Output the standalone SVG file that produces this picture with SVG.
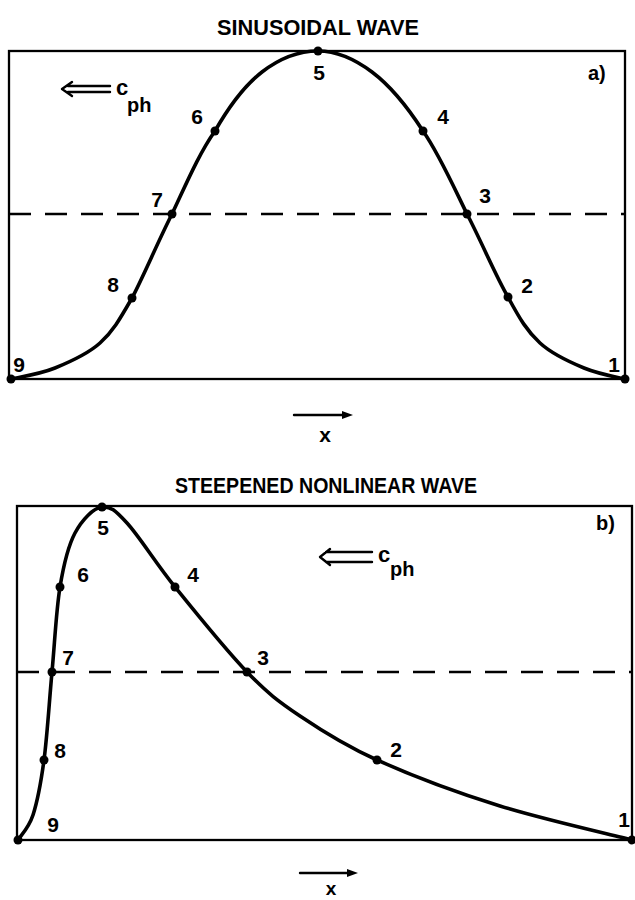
<svg xmlns="http://www.w3.org/2000/svg" width="635" height="900" viewBox="0 0 635 900">
<style>
.box{fill:none;stroke:#000;stroke-width:2.3}
.dash{fill:none;stroke:#000;stroke-width:2.6;stroke-dasharray:22 14}
.curve{fill:none;stroke:#000;stroke-width:3.6;stroke-linecap:round;stroke-linejoin:round}
.pt{fill:#000}
.ln{fill:none;stroke:#000;stroke-width:2.4;stroke-linecap:round;stroke-linejoin:round}
text{font-family:"Liberation Sans",Arial,sans-serif;font-weight:bold;fill:#000}
.title{font-size:22px}
.num{font-size:21px;text-anchor:middle}
.lab{font-size:20px}
.c{font-size:22px}
.sub{font-size:20px}
</style>
<rect width="635" height="900" fill="#fff"/>

<g id="panel-a">
<text class="title" x="318" y="35" text-anchor="middle" textLength="202" lengthAdjust="spacingAndGlyphs">SINUSOIDAL WAVE</text>
<rect class="box" x="9" y="51" width="616" height="328"/>
<line class="dash" x1="9" y1="214" x2="625" y2="214"/>
<path class="curve" d="M11,379 C19.2,377.2 40.3,374 55,368 C69.7,362 87.3,354.5 100,343 C112.7,331.5 119,320.7 132,298 C143,277.3 158.2,241.2 172,214 C185.8,184.8 199,153.5 215,131 C229,106.5 244.8,85.3 262,72 C279.2,58.7 298.7,51 318,51 C335.3,51 354.3,58.7 372,72 C389.7,85.3 407.2,106.5 423,131 C438.8,153.5 452.8,185 467,214 C481.2,241 495.8,276.3 508,297 C520.2,319.7 527.3,331.3 540,343 C552.7,354.7 569.5,362 584,368 C598.5,374 617,377.2 625,379"/>
<g id="a-points">
<circle class="pt" cx="11" cy="379" r="4.5"/>
<circle class="pt" cx="132" cy="298" r="4.5"/>
<circle class="pt" cx="172" cy="214" r="4.5"/>
<circle class="pt" cx="215" cy="131" r="4.5"/>
<circle class="pt" cx="318" cy="51" r="4.5"/>
<circle class="pt" cx="423" cy="131" r="4.5"/>
<circle class="pt" cx="467" cy="214" r="4.5"/>
<circle class="pt" cx="508" cy="297" r="4.5"/>
<circle class="pt" cx="625" cy="379" r="4.5"/>
</g>
<g id="a-labels">
<text class="num" x="19" y="372">9</text>
<text class="num" x="113" y="292">8</text>
<text class="num" x="157" y="207">7</text>
<text class="num" x="197" y="124">6</text>
<text class="num" x="319" y="80">5</text>
<text class="num" x="443" y="124">4</text>
<text class="num" x="485" y="203">3</text>
<text class="num" x="527" y="293">2</text>
<text class="num" x="614" y="372">1</text>
<text class="lab" x="588" y="80">a)</text>
</g>
<g id="a-cph">
<path class="ln" d="M72,82 L62,89 L72,96 M68,86 L110,86 M68,92 L110,92"/>
<text class="c" x="116" y="95">c</text>
<text class="sub" x="127" y="112">ph</text>
</g>
<g id="a-x">
<line class="ln" x1="294" y1="415" x2="344" y2="415"/>
<path d="M342,411 L353,415 L342,419 Z" fill="#000"/>
<text class="num" x="325" y="442">x</text>
</g>
</g>

<g id="panel-b">
<text class="title" x="326" y="493" text-anchor="middle" textLength="302" lengthAdjust="spacingAndGlyphs">STEEPENED NONLINEAR WAVE</text>
<rect class="box" x="17" y="506" width="615" height="334"/>
<line class="dash" x1="17" y1="672" x2="632" y2="672"/>
<path class="curve" d="M18,840 C20.5,835.8 28.7,828.3 33,815 C37.3,801.7 40.8,783.8 44,760 C47.2,736.2 49.3,700.8 52,672 C54.7,643.2 56.2,610.2 60,587 C63.8,563.8 68,546.2 75,533 C82,519.8 93.3,508 102,507 C110.7,506.3 114.8,509.8 127,523 C139.2,536.2 155,562.2 175,587 C195,611.8 226.2,650.5 247,672 C267.8,693.5 278.3,701.3 300,716 C321.7,730.7 343.7,745 377,760 C410.3,775 457.2,792.7 500,806 C542.8,819.3 610,834.3 632,840"/>
<g id="b-points">
<circle class="pt" cx="18" cy="840" r="4.5"/>
<circle class="pt" cx="44" cy="760" r="4.5"/>
<circle class="pt" cx="52" cy="672" r="4.5"/>
<circle class="pt" cx="60" cy="587" r="4.5"/>
<circle class="pt" cx="102" cy="507" r="4.5"/>
<circle class="pt" cx="175" cy="587" r="4.5"/>
<circle class="pt" cx="247" cy="672" r="4.5"/>
<circle class="pt" cx="377" cy="760" r="4.5"/>
<circle class="pt" cx="632" cy="840" r="4.5"/>
</g>
<g id="b-labels">
<text class="num" x="53" y="832">9</text>
<text class="num" x="60" y="758">8</text>
<text class="num" x="68" y="665">7</text>
<text class="num" x="83" y="582">6</text>
<text class="num" x="103" y="535">5</text>
<text class="num" x="193" y="582">4</text>
<text class="num" x="263" y="665">3</text>
<text class="num" x="396" y="757">2</text>
<text class="num" x="624" y="827">1</text>
<text class="lab" x="596" y="530">b)</text>
</g>
<g id="b-cph">
<path class="ln" d="M330,549 L320,557 L330,565 M326,552 L372,552 M326,562 L372,562"/>
<text class="c" x="378" y="562">c</text>
<text class="sub" x="390" y="576">ph</text>
</g>
<g id="b-x">
<line class="ln" x1="300" y1="873" x2="349" y2="873"/>
<path d="M347,869 L358,873 L347,877 Z" fill="#000"/>
<text class="num" x="331" y="895" style="font-size:19px">x</text>
</g>
</g>
</svg>
